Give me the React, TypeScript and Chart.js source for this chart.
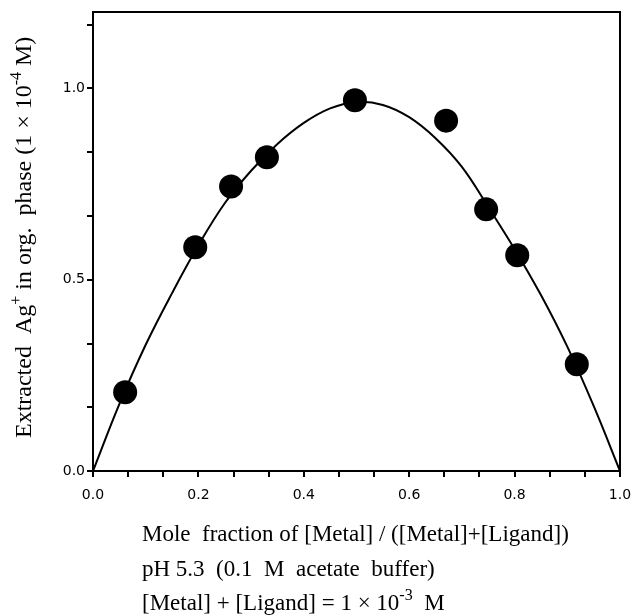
import React, { useEffect, useRef } from "react";
import { Chart, registerables } from "chart.js";

Chart.register(...registerables);

// Measured points: mole fraction of metal vs extracted Ag+ (1e-4 M)
const moleFraction = [0.061, 0.194, 0.262, 0.33, 0.497, 0.67, 0.746, 0.805, 0.918];
const extractedAg = [0.206, 0.585, 0.744, 0.82, 0.969, 0.916, 0.684, 0.564, 0.279];

// Fitted curve
const curveX = [0, 0.05, 0.1, 0.15, 0.2, 0.25, 0.3, 0.35, 0.4, 0.45, 0.5, 0.55, 0.6, 0.65, 0.7, 0.75, 0.8, 0.85, 0.9, 0.95, 1.0];
const curveY = [0, 0.175, 0.33, 0.465, 0.59, 0.7, 0.785, 0.855, 0.91, 0.948, 0.965, 0.957, 0.925, 0.87, 0.795, 0.69, 0.58, 0.46, 0.325, 0.17, 0];

// Tick labels
const xTickLabels = ["0.0", "0.2", "0.4", "0.6", "0.8", "1.0"];
const yTickLabels = ["0.0", "0.5", "1.0"];
const xMinorPerMajor = 3;
const yMinorPerMajor = 3;

const yTitleParts: [string, boolean][] = [
  ["Extracted  Ag", false],
  ["+", true],
  [" in org.  phase (1 \u00d7 10", false],
  ["-4", true],
  [" M)", false],
];
const noteLines: [string, boolean][][] = [
  [["Mole  fraction of [Metal] / ([Metal]+[Ligand])", false]],
  [["pH 5.3  (0.1  M  acetate  buffer)", false]],
  [["[Metal] + [Ligand] = 1 \u00d7 10", false], ["-3", true], ["  M", false]],
];

const SERIF = '"Liberation Serif", "Times New Roman", serif';

function drawParts(ctx: CanvasRenderingContext2D, parts: [string, boolean][], x: number, y: number, fs: number) {
  let cx = x;
  for (const [t, sup] of parts) {
    ctx.font = `${sup ? Math.round(fs * 0.68) : fs}px ${SERIF}`;
    ctx.fillText(t, cx, sup ? y - fs * 0.42 : y);
    cx += ctx.measureText(t).width;
  }
}

const decorPlugin = {
  id: "decor",
  afterDraw(chart: any) {
    const { ctx, chartArea } = chart;
    const { left, right, top, bottom } = chartArea;
    ctx.save();
    ctx.strokeStyle = "#000";
    ctx.lineWidth = 2;
    ctx.beginPath();
    ctx.moveTo(left, top);
    ctx.lineTo(right, top);
    ctx.lineTo(right, bottom);
    ctx.stroke();

    ctx.fillStyle = "#000";
    ctx.textBaseline = "alphabetic";
    ctx.textAlign = "left";
    // Y title rotated
    ctx.save();
    ctx.translate(31, 438);
    ctx.rotate(-Math.PI / 2);
    drawParts(ctx, yTitleParts, 0, 0, 24);
    ctx.restore();
    // Notes below
    const baseY = [541, 576, 610];
    noteLines.forEach((line, i) => drawParts(ctx, line, 142, baseY[i], 23));
    ctx.restore();
  },
};

export default function App() {
  const ref = useRef<HTMLCanvasElement | null>(null);
  useEffect(() => {
    if (!ref.current) return;
    const chart = new Chart(ref.current, {
      type: "scatter",
      data: {
        datasets: [
          {
            label: "fit",
            data: curveX.map((x, i) => ({ x, y: curveY[i] })),
            showLine: true,
            borderColor: "#000",
            borderWidth: 2,
            pointRadius: 0,
            tension: 0.4,
          },
          {
            label: "data",
            data: moleFraction.map((x, i) => ({ x, y: extractedAg[i] })),
            showLine: false,
            pointRadius: 12,
            pointBackgroundColor: "#000",
            pointBorderColor: "#000",
            borderWidth: 0,
          },
        ],
      },
      options: {
        responsive: false,
        animation: false,
        layout: { padding: { left: 0, right: 15, top: 12, bottom: 0 } },
        plugins: { legend: { display: false }, tooltip: { enabled: false } },
        scales: {
          x: {
            type: "linear",
            min: 0,
            max: 1,
            afterBuildTicks: (scale: any) => {
              const n = (xTickLabels.length - 1) * xMinorPerMajor;
              const t = [];
              for (let k = 0; k <= n; k++) t.push({ value: k / n });
              scale.ticks = t;
            },
            afterFit: (scale: any) => {
              scale.height = 145;
              scale.paddingLeft = 0;
              scale.paddingRight = 0;
            },
            ticks: {
              autoSkip: false,
              maxRotation: 0,
              padding: 10,
              color: "#000",
              font: { family: '"DejaVu Sans", sans-serif', size: 14 },
              callback: (_v: any, i: number) => (i % xMinorPerMajor === 0 ? xTickLabels[i / xMinorPerMajor] : ""),
            },
            grid: { drawOnChartArea: false, drawTicks: true, tickLength: 6, color: "#000", lineWidth: 2 },
            border: { color: "#000", width: 2 },
          },
          y: {
            type: "linear",
            min: 0,
            max: 1.2,
            afterBuildTicks: (scale: any) => {
              const t = [];
              for (let k = 0; k <= 7; k++) t.push({ value: (k * 0.5) / yMinorPerMajor });
              scale.ticks = t;
            },
            afterFit: (scale: any) => {
              scale.width = 93;
              scale.paddingTop = 0;
              scale.paddingBottom = 0;
            },
            ticks: {
              autoSkip: false,
              padding: 2,
              color: "#000",
              font: { family: '"DejaVu Sans", sans-serif', size: 14 },
              callback: (_v: any, i: number) => (i % yMinorPerMajor === 0 ? yTickLabels[i / yMinorPerMajor] : ""),
            },
            grid: { drawOnChartArea: false, drawTicks: true, tickLength: 6, color: "#000", lineWidth: 2 },
            border: { color: "#000", width: 2 },
          },
        },
      },
      plugins: [decorPlugin],
    } as any);
    return () => chart.destroy();
  }, []);
  return (
    <div style={{ position: "absolute", left: 0, top: 0, width: 635, height: 616, background: "#fff" }}>
      <canvas ref={ref} width={635} height={616} style={{ display: "block" }} />
    </div>
  );
}
